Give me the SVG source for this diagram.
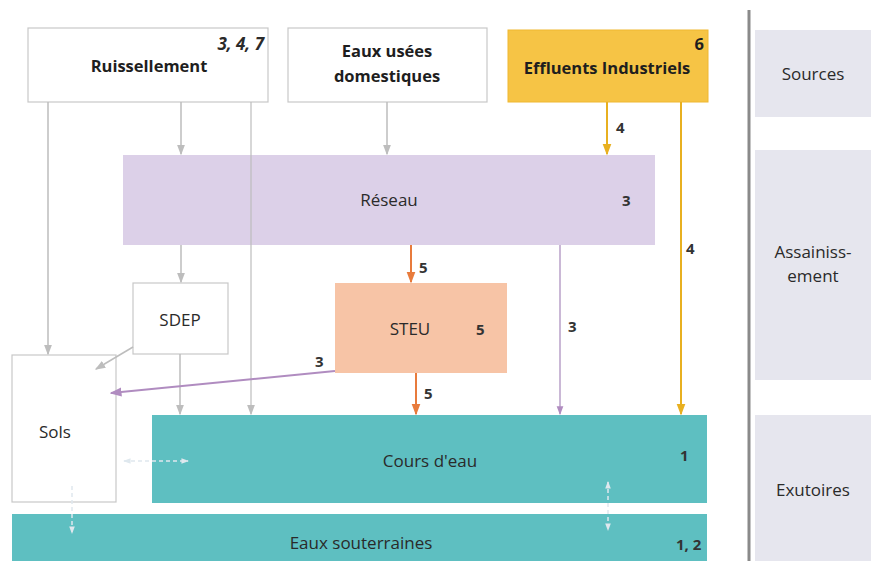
<svg xmlns="http://www.w3.org/2000/svg" width="871" height="561" viewBox="0 0 871 561">
<defs>
<style>
text{font-family:"Open Sans","Liberation Sans",sans-serif;fill:#2a2a2a;font-size:17px}
.b{font-weight:bold;fill:#1e1e1e;font-size:16.5px}
.c{text-anchor:middle}
.n{font-weight:bold;font-size:15px;fill:#333}
.box{fill:#fff;stroke:#c8c8c8;stroke-width:1.2}
.g{stroke:#bdbdbd;stroke-width:1.5;fill:none}
.side{fill:#e6e6ee}
</style>
<marker id="ag" viewBox="0 0 8 8" refX="7" refY="4" markerWidth="7" markerHeight="7" orient="auto"><path d="M0,1 L8,4 L0,7 z" fill="#bdbdbd"/></marker>
<marker id="ao" viewBox="0 0 8 8" refX="7" refY="4" markerWidth="6" markerHeight="6" orient="auto"><path d="M0,1 L8,4 L0,7 z" fill="#e87b3c"/></marker>
<marker id="ay" viewBox="0 0 8 8" refX="7" refY="4" markerWidth="6" markerHeight="6" orient="auto"><path d="M0,1 L8,4 L0,7 z" fill="#e8b020"/></marker>
<marker id="ap" viewBox="0 0 8 8" refX="7" refY="4" markerWidth="6" markerHeight="6" orient="auto"><path d="M0,1 L8,4 L0,7 z" fill="#b08cc0"/></marker>
<marker id="aw" viewBox="0 0 8 8" refX="7" refY="4" markerWidth="5" markerHeight="5" orient="auto"><path d="M0,1 L8,4 L0,7 z" fill="#dfe8ee"/></marker>
<marker id="aws" viewBox="0 0 8 8" refX="1" refY="4" markerWidth="5" markerHeight="5" orient="auto"><path d="M8,1 L0,4 L8,7 z" fill="#dfe8ee"/></marker>
</defs>
<rect width="871" height="561" fill="#fff"/>

<g id="side">
<line x1="749" y1="10" x2="749" y2="561" stroke="#8a8a8a" stroke-width="3"/>
<rect class="side" x="755" y="30" width="116" height="87"/>
<text class="c" x="813" y="80">Sources</text>
<rect class="side" x="755" y="150" width="116" height="230"/>
<text class="c" x="813" y="258">Assainiss-</text>
<text class="c" x="813" y="282">ement</text>
<rect class="side" x="755" y="415" width="116" height="146"/>
<text class="c" x="813" y="496">Exutoires</text>
</g>

<g id="reseau">
<rect x="123" y="155" width="532" height="90" fill="#dcd0e8"/>
<text class="c" x="389" y="206">Réseau</text>
<text class="n" x="622" y="206">3</text>
</g>

<g id="cours">
<rect x="152" y="415" width="555" height="88" fill="#5ebfc1"/>
<text class="c" x="430" y="467">Cours d'eau</text>
<text class="n" x="680" y="461">1</text>
</g>

<g id="souterraines">
<rect x="12" y="514" width="695" height="47" fill="#5ebfc1"/>
<text class="c" x="361" y="549">Eaux souterraines</text>
<text class="n" x="676" y="550">1, 2</text>
</g>

<g id="ruissellement">
<rect class="box" x="28" y="28" width="240" height="74"/>
<text class="c b" x="149" y="72">Ruissellement</text>
<text x="264" y="50" text-anchor="end" font-style="italic" font-weight="bold" font-size="16" fill="#444">3, 4, 7</text>
</g>

<g id="eaux-usees">
<rect class="box" x="288" y="28" width="199" height="74"/>
<text class="c b" x="387" y="57">Eaux usées</text>
<text class="c b" x="387" y="82">domestiques</text>
</g>

<g id="effluents">
<rect x="508" y="30" width="200" height="72" fill="#f6c445" stroke="#f0b830"/>
<text class="b" x="704" y="50" text-anchor="end">6</text>
<text class="c b" x="607" y="74">Effluents Industriels</text>
</g>

<g id="sdep">
<rect class="box" x="133" y="283" width="95" height="71"/>
<text class="c" x="180" y="326">SDEP</text>
</g>

<g id="steu">
<rect x="335" y="283" width="172" height="90" fill="#f7c4a6"/>
<text class="c" x="410" y="335">STEU</text>
<text class="n" x="476" y="335">5</text>
</g>

<g id="sols">
<rect class="box" x="12" y="355" width="104" height="147"/>
<text class="c" x="55" y="438">Sols</text>
</g>

<g id="connectors">
<line class="g" x1="48" y1="102" x2="48" y2="354" marker-end="url(#ag)"/>
<line class="g" x1="181" y1="102" x2="181" y2="154" marker-end="url(#ag)"/>
<line class="g" x1="181" y1="245" x2="181" y2="282" marker-end="url(#ag)"/>
<line class="g" x1="251" y1="102" x2="251" y2="414" marker-end="url(#ag)" stroke-opacity="0.8"/>
<line class="g" x1="387" y1="102" x2="387" y2="154" marker-end="url(#ag)"/>
<line class="g" x1="180" y1="354" x2="180" y2="414" marker-end="url(#ag)"/>
<line class="g" x1="133" y1="347" x2="96" y2="369" marker-end="url(#ag)"/>
<line x1="411" y1="245" x2="411" y2="282" stroke="#e87b3c" stroke-width="2" marker-end="url(#ao)"/>
<text class="n" x="419" y="273">5</text>
<line x1="416" y1="373" x2="416" y2="414" stroke="#e87b3c" stroke-width="2" marker-end="url(#ao)"/>
<text class="n" x="424" y="399">5</text>
<line x1="607" y1="102" x2="607" y2="154" stroke="#e8b020" stroke-width="2" marker-end="url(#ay)"/>
<text class="n" x="616" y="133">4</text>
<line x1="681" y1="102" x2="681" y2="414" stroke="#e8b020" stroke-width="2" marker-end="url(#ay)"/>
<text class="n" x="686" y="254">4</text>
<line x1="560" y1="245" x2="560" y2="414" stroke="#b8a0c8" stroke-width="1.5" marker-end="url(#ap)"/>
<text class="n" x="568" y="332">3</text>
<line x1="335" y1="371" x2="111" y2="393" stroke="#b08cc0" stroke-width="2" marker-end="url(#ap)"/>
<text class="n" x="315" y="367">3</text>
<line x1="124" y1="461" x2="188" y2="461" stroke="#dfe8ee" stroke-width="1.5" stroke-dasharray="4,3" marker-start="url(#aws)" marker-end="url(#aw)"/>
<line x1="72" y1="486" x2="72" y2="533" stroke="#dfe8ee" stroke-width="1.5" stroke-dasharray="4,3" marker-end="url(#aw)"/>
<line x1="608" y1="482" x2="608" y2="530" stroke="#dfe8ee" stroke-width="1.5" stroke-dasharray="4,3" marker-start="url(#aws)" marker-end="url(#aw)"/>
</g>
</svg>
